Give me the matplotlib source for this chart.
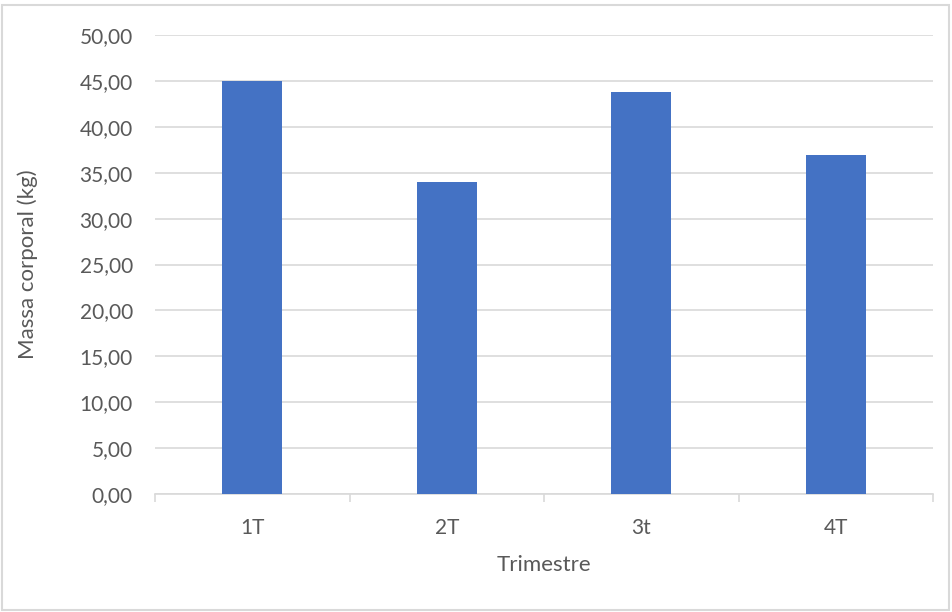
import matplotlib
matplotlib.use("Agg")
import matplotlib.pyplot as plt
from matplotlib.patches import Rectangle
from matplotlib.ticker import FixedLocator

# Body mass per trimester
categories = ["1T", "2T", "3t", "4T"]
mass_kg = [45.0, 34.0, 43.8, 36.9]
y_ticks = [0, 5, 10, 15, 20, 25, 30, 35, 40, 45, 50]

plt.rcParams["font.family"] = ["Lato", "DejaVu Sans"]
text_color = "#595959"
grid_color = "#D9D9D9"
bar_color = "#4472C4"

fig = plt.figure(figsize=(9.52, 6.12), dpi=100)
ax = fig.add_axes([155 / 952, 1 - 494 / 612, (933 - 155) / 952, (494 - 35) / 612])

x = list(range(len(categories)))
ax.bar(x, mass_kg, width=0.31, color=bar_color, zorder=3)

ax.set_xlim(-0.5, len(categories) - 0.5)
ax.set_ylim(0, 50)
ax.set_yticks(y_ticks)
ax.set_yticklabels([f"{v:.2f}".replace(".", ",") for v in y_ticks])
ax.set_xticks(x)
ax.set_xticklabels(categories)
ax.xaxis.set_minor_locator(FixedLocator([i - 0.5 for i in range(len(categories) + 1)]))

ax.tick_params(axis="y", length=0, pad=16, labelsize=15, labelcolor=text_color)
ax.tick_params(axis="x", which="major", length=0, pad=17, labelsize=15, labelcolor=text_color)
ax.tick_params(axis="x", which="minor", length=6, width=1.2, color=grid_color, direction="out")

ax.grid(axis="y", color=grid_color, linewidth=1.2, zorder=0)
for side in ["top", "right", "left"]:
    ax.spines[side].set_visible(False)
ax.spines["bottom"].set_color(grid_color)
ax.spines["bottom"].set_linewidth(1.2)

ax.set_xlabel("Trimestre", fontsize=16, color=text_color)
ax.set_ylabel("Massa corporal (kg)", fontsize=16, color=text_color)
ax.xaxis.set_label_coords(0.5, -(565 - 494) / 459, transform=ax.transAxes)
ax.yaxis.set_label_coords(-(155 - 28) / 778, 0.5, transform=ax.transAxes)
ax.xaxis.label.set_verticalalignment("center")
ax.yaxis.label.set_verticalalignment("center")

# Chart frame
fig.patches.append(Rectangle((2 / 952, 1 - 610 / 612), 947 / 952, 605 / 612,
                             transform=fig.transFigure, fill=False,
                             edgecolor=grid_color, linewidth=1.5))

fig.savefig("out.png", dpi=100)
